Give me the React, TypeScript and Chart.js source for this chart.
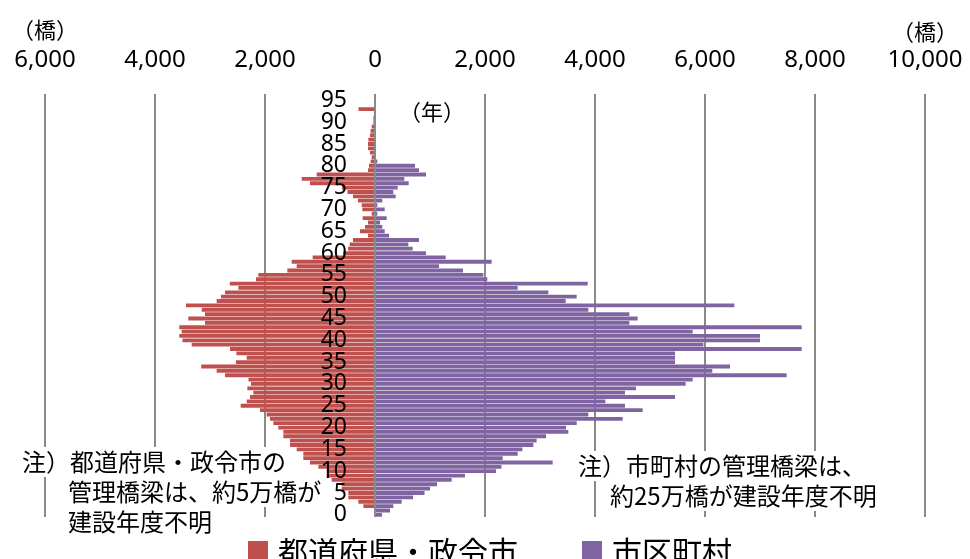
import React, { useEffect, useRef } from 'react';
import { Chart, registerables } from 'chart.js';

Chart.register(...registerables);

// Age of bridge (years since construction), 0 .. 96
const ageLabels: string[] = [
  '0','1','2','3','4','5','6','7','8','9',
  '10','11','12','13','14','15','16','17','18','19',
  '20','21','22','23','24','25','26','27','28','29',
  '30','31','32','33','34','35','36','37','38','39',
  '40','41','42','43','44','45','46','47','48','49',
  '50','51','52','53','54','55','56','57','58','59',
  '60','61','62','63','64','65','66','67','68','69',
  '70','71','72','73','74','75','76','77','78','79',
  '80','81','82','83','84','85','86','87','88','89',
  '90','91','92','93','94','95','96',
];

// 都道府県・政令市 (bridges per age, drawn to the left)
const prefectureCity: number[] = [
  0, 20, 212, 303, 485, 485, 606, 606, 788, 879,
  879, 1030, 1182, 1303, 1303, 1424, 1545, 1545, 1667, 1667,
  1758, 1848, 1909, 1970, 2091, 2442, 2333, 2273, 2212, 2321,
  2255, 2300, 2727, 2879, 3160, 2530, 2333, 2520, 2636, 3333,
  3500, 3558, 3515, 3558, 3091, 3394, 3091, 3150, 3436, 2879,
  2800, 2727, 2485, 2640, 2164, 2121, 1594, 1424, 1515, 1133,
  580, 490, 460, 400, 127, 273, 182, 127, 224, 60,
  230, 242, 310, 400, 500, 600, 1182, 1333, 1061, 127,
  110, 80, 60, 90, 127, 127, 121, 90, 80, 60,
  30, 30, 20, 300, 0, 0, 0,
];

// 市区町村 (bridges per age, drawn to the right)
const municipality: number[] = [
  127, 273, 333, 485, 691, 900, 1000, 1127, 1394, 1636,
  2200, 2300, 3230, 2321, 2594, 2679, 2879, 2939, 3109, 3515,
  3473, 3667, 4503, 3879, 4867, 4545, 4188, 5455, 4545, 4745,
  5648, 5776, 7485, 6133, 6455, 5455, 5455, 5455, 7758, 5970,
  7000, 7000, 5776, 7758, 4624, 4776, 4624, 3879, 6533, 3467,
  3667, 3152, 2594, 3867, 2042, 1970, 1600, 1164, 2121, 1285,
  927, 685, 606, 800, 255, 176, 133, 91, 212, 42,
  176, 42, 133, 376, 333, 412, 612, 533, 927, 800,
  727, 42, 0, 0, 0, 0, 0, 0, 0, 0,
  0, 0, 0, 0, 0, 0, 0,
];

const seriesNames = ['都道府県・政令市', '市区町村'];
const seriesColors = ['#C0504D', '#8064A2'];

const xMin = -6000;
const xMax = 10000;
const xStep = 2000;

const unitLabel = '（橋）';
const yearLabel = '（年）';
const noteLeft = ['注）都道府県・政令市の', '管理橋梁は、約5万橋が', '建設年度不明'];
const noteRight = ['注）市町村の管理橋梁は、', '約25万橋が建設年度不明'];

const JP = '"Noto Sans CJK JP", "Noto Sans", sans-serif';
const NUM = '"Noto Sans", "Noto Sans CJK JP", sans-serif';

const overlayPlugin = {
  id: 'overlayText',
  afterDatasetsDraw(chart: any) {
    // age labels every 5 years, drawn over the bars left of the zero line
    const ctx = chart.ctx as CanvasRenderingContext2D;
    const xs = chart.scales.x;
    const ys = chart.scales.y;
    const x0 = xs.getPixelForValue(0);
    ctx.save();
    ctx.fillStyle = '#000';
    ctx.font = `23px ${NUM}`;
    ctx.textAlign = 'right';
    ctx.textBaseline = 'middle';
    ageLabels.forEach((lab, i) => {
      if (Number(lab) % 5 === 0) {
        ctx.fillText(lab, x0 - 28, ys.getPixelForValue(i));
      }
    });
    ctx.restore();
  },
  afterDraw(chart: any) {
    const ctx = chart.ctx as CanvasRenderingContext2D;
    const xs = chart.scales.x;
    ctx.save();
    ctx.fillStyle = '#000';
    ctx.textBaseline = 'middle';
    ctx.textAlign = 'center';
    ctx.font = `22px ${JP}`;
    ctx.fillText(unitLabel, xs.getPixelForValue(xMin), 30);
    ctx.fillText(unitLabel, xs.getPixelForValue(xMax), 32);
    ctx.fillText(yearLabel, 432, 112);

    const drawNote = (text: string, x: number, y: number) => {
      ctx.font = `24px ${JP}`;
      const w = ctx.measureText(text).width;
      ctx.fillStyle = '#fff';
      ctx.fillRect(x - 3, y - 15, w + 6, 30);
      ctx.fillStyle = '#000';
      ctx.textAlign = 'left';
      ctx.fillText(text, x, y);
    };
    drawNote(noteLeft[0], 22, 462);
    drawNote(noteLeft[1], 68, 492);
    drawNote(noteLeft[2], 68, 522);
    drawNote(noteRight[0], 578, 466);
    drawNote(noteRight[1], 610, 496);

    // legend
    ctx.font = `30px ${JP}`;
    ctx.textAlign = 'left';
    const legendItems = [
      { x: 248, size: 20, tx: 278 },
      { x: 582, size: 20, tx: 612 },
    ];
    legendItems.forEach((it, i) => {
      ctx.fillStyle = seriesColors[i];
      ctx.fillRect(it.x, 541, it.size, it.size);
      ctx.fillStyle = '#000';
      ctx.fillText(seriesNames[i], it.tx, 552);
    });
    ctx.restore();
  },
};

export default function App() {
  const ref = useRef<HTMLCanvasElement | null>(null);

  useEffect(() => {
    document.body.style.margin = '0';
    const canvas = ref.current;
    if (!canvas) return;
    const chart = new Chart(canvas, {
      type: 'bar',
      data: {
        labels: ageLabels,
        datasets: [
          {
            label: seriesNames[0],
            data: prefectureCity.map((v) => -v),
            backgroundColor: seriesColors[0],
            borderWidth: 0,
            categoryPercentage: 0.88,
            barPercentage: 1,
          },
          {
            label: seriesNames[1],
            data: municipality,
            backgroundColor: seriesColors[1],
            borderWidth: 0,
            categoryPercentage: 0.88,
            barPercentage: 1,
          },
        ],
      },
      options: {
        indexAxis: 'y',
        responsive: false,
        animation: false,
        events: [],
        layout: { autoPadding: false, padding: { left: 45, right: 45, top: 46, bottom: 42 } },
        plugins: {
          legend: { display: false },
          tooltip: { enabled: false },
          title: { display: false },
        },
        scales: {
          x: {
            type: 'linear',
            position: 'top',
            min: xMin,
            max: xMax,
            stacked: true,
            ticks: {
              stepSize: xStep,
              color: '#000',
              font: { family: NUM, size: 24 },
              padding: 0,
              maxRotation: 0,
              callback: (v: any) => Math.abs(Number(v)).toLocaleString('en-US'),
            },
            grid: {
              color: '#8a8a8a',
              lineWidth: 2,
              drawTicks: true,
              tickLength: 19,
              tickColor: 'rgba(0,0,0,0)',
            },
            border: { display: false },
          },
          y: {
            type: 'category',
            display: false,
            reverse: true,
            stacked: true,
            grid: { display: false },
          },
        },
      },
      plugins: [overlayPlugin],
    });
    return () => chart.destroy();
  }, []);

  return (
    <div style={{ width: 970, height: 559 }}>
      <canvas ref={ref} width={970} height={559} style={{ display: 'block' }} />
    </div>
  );
}
